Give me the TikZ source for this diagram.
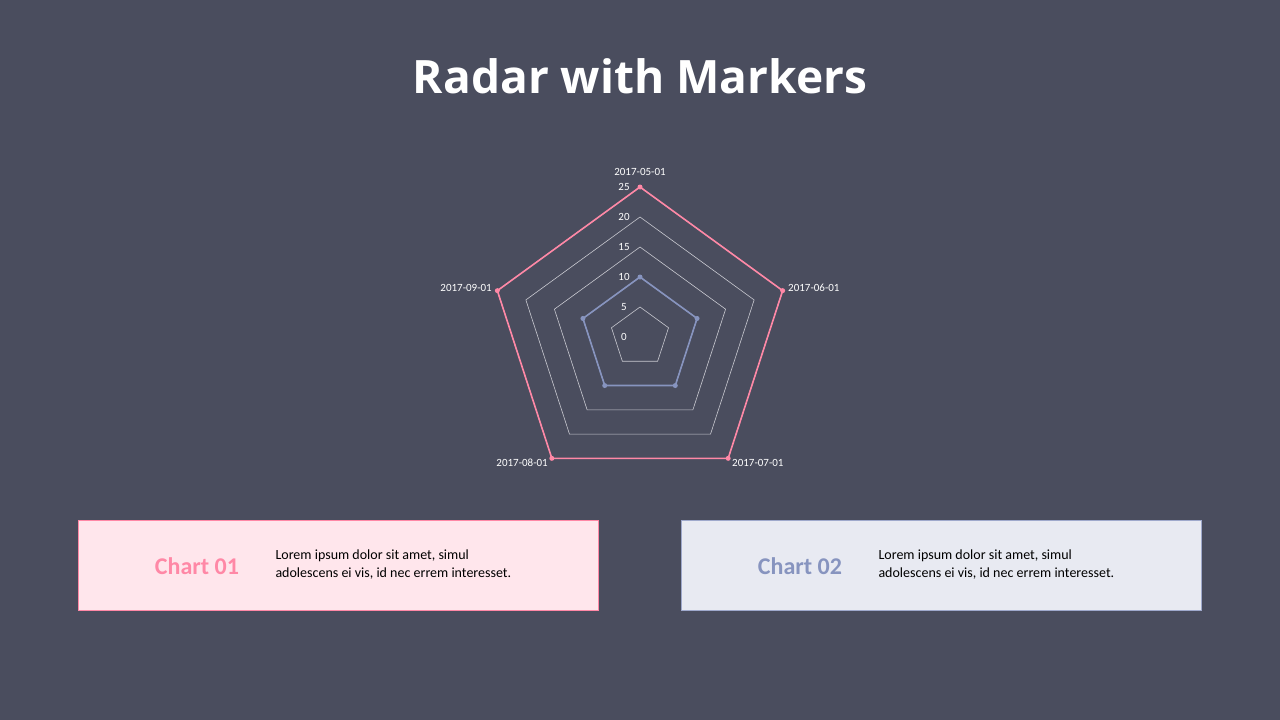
\documentclass[tikz,border=0pt]{standalone}
\usepackage{fontspec}
\setmainfont{Carlito}
\newfontfamily\titlefont{Open Sans}
\definecolor{bg}{HTML}{4A4D5E}
\definecolor{pinkc}{HTML}{FF88A6}
\definecolor{bluec}{HTML}{8794BF}
\definecolor{gridc}{HTML}{C8C9D0}
\definecolor{pinkfill}{HTML}{FFE6EC}
\definecolor{bluefill}{HTML}{E8EAF2}
\begin{document}
\begin{tikzpicture}[x=1pt,y=-1pt,
  ax/.style={text=white,font=\fontsize{11}{13}\selectfont,inner sep=1pt},
  tick/.style={text=white,font=\fontsize{11}{13}\selectfont,inner sep=0pt},
  mk/.style={circle,inner sep=0pt,minimum size=5pt},
  card/.style={draw,line width=0.8pt,minimum width=520pt,minimum height=90pt,anchor=north west},
  body/.style={text=black,font=\fontsize{14}{18}\selectfont,align=left,anchor=west}]
\fill[bg] (0,0) rectangle (1280,720);
\useasboundingbox (0,0) rectangle (1280,720);
\node[text=white,font=\titlefont\bfseries\fontsize{46}{50}\selectfont] (title) at (640,76) {Radar with Markers};
\coordinate (c) at (640,337);
\foreach \v in {5,10,15,20,25}{
  \pgfmathsetmacro\r{6*\v}
  \draw[gridc,line width=0.6pt] ([shift={(-90:\r)}]c) -- ([shift={(-18:\r)}]c) -- ([shift={(54:\r)}]c) -- ([shift={(126:\r)}]c) -- ([shift={(198:\r)}]c) -- cycle;
}
\foreach \v/\y in {0/337,5/307,10/277,15/247,20/217,25/187}{
  \node[tick] (t\v) at (624,\y) {\v};
}
\draw[pinkc,line width=1.6pt] ([shift={(-90:150)}]c) coordinate (p1) -- ([shift={(-18:150)}]c) coordinate (p2) -- ([shift={(54:150)}]c) coordinate (p3) -- ([shift={(126:150)}]c) coordinate (p4) -- ([shift={(198:150)}]c) coordinate (p5) -- cycle;
\draw[bluec,line width=1.6pt] ([shift={(-90:60)}]c) coordinate (b1) -- ([shift={(-18:60)}]c) coordinate (b2) -- ([shift={(54:60)}]c) coordinate (b3) -- ([shift={(126:60)}]c) coordinate (b4) -- ([shift={(198:60)}]c) coordinate (b5) -- cycle;
\foreach \i in {1,...,5}{
  \node[mk,fill=pinkc] (pm\i) at (p\i) {};
  \node[mk,fill=bluec] (bm\i) at (b\i) {};
}
\node[ax,anchor=south] (l1) at (640,177) {2017-05-01};
\node[ax,anchor=west] (l2) at (787,288) {2017-06-01};
\node[ax,anchor=west] (l3) at (731,463) {2017-07-01};
\node[ax,anchor=east] (l4) at (549,463) {2017-08-01};
\node[ax,anchor=east] (l5) at (493,288) {2017-09-01};
\node[card,draw=pinkc,fill=pinkfill] (card1) at (78,520) {};
\node[card,draw=bluec!80,fill=bluefill] (card2) at (681,520) {};
\node[text=pinkc,font=\bfseries\fontsize{24}{28}\selectfont] (h1) at (197,566) {Chart 01};
\node[text=bluec,font=\bfseries\fontsize{24}{28}\selectfont] (h2) at (800,566) {Chart 02};
\node[body] (d1) at (272,565) {Lorem\ ipsum dolor sit amet,\ simul\\adolescens ei vis, id nec errem\ interesset.};
\node[body] (d2) at (875,565) {Lorem\ ipsum dolor sit amet,\ simul\\adolescens ei vis, id nec errem\ interesset.};
\end{tikzpicture}
\end{document}
